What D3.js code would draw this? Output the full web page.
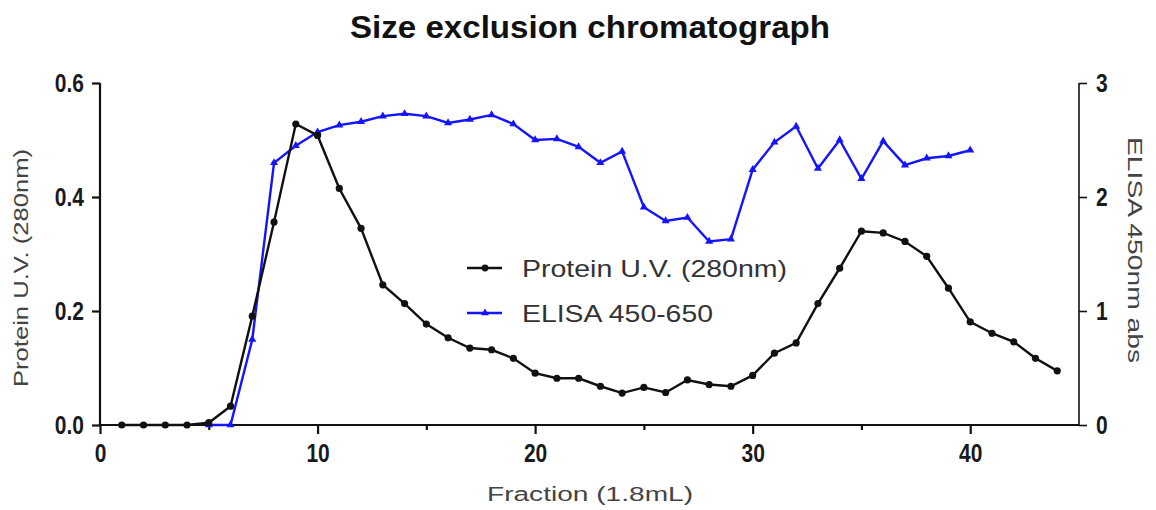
<!DOCTYPE html>
<html>
<head>
<meta charset="utf-8">
<script src="https://cdn.jsdelivr.net/npm/d3@7"></script>
<style>
  body { margin: 0; background: #fff; }
  svg { display: block; }
  .tick text { font-family: "Liberation Sans", Arial, sans-serif; font-weight: bold; font-size: 25px; fill: #1a1a1a; }
  .ttl { font-family: "Liberation Sans", Arial, sans-serif; fill: #444; font-size: 20px; }
</style>
</head>
<body>
<svg class="chart" width="1156" height="510"></svg>
<script>
var fractions = [1,2,3,4,5,6,7,8,9,10,11,12,13,14,15,16,17,18,19,20,21,22,
                 23,24,25,26,27,28,29,30,31,32,33,34,35,36,37,38,39,40,41,42,43,44];
var protein = [0,0,0,0,0.004,0.033,0.191,0.356,0.528,0.508,0.415,0.345,0.246,0.213,0.177,
               0.153,0.135,0.132,0.117,0.091,0.082,0.082,0.068,0.056,0.066,0.057,0.079,0.071,
               0.068,0.087,0.126,0.144,0.213,0.275,0.340,0.337,0.322,0.296,0.240,0.181,0.161,
               0.146,0.117,0.095];
var elisaFractions = [5,6,7,8,9,10,11,12,13,14,15,16,17,18,19,20,21,22,23,24,25,26,
                      27,28,29,30,31,32,33,34,35,36,37,38,39,40];
var elisa = [0,0,0.75,2.30,2.45,2.57,2.63,2.66,2.71,2.73,2.71,2.65,2.68,2.72,2.64,2.50,2.51,
             2.44,2.30,2.40,1.91,1.79,1.82,1.61,1.63,2.24,2.48,2.62,2.25,2.50,2.16,2.49,2.28,
             2.34,2.36,2.41];
var xTicks = [0,10,20,30,40];
var xMinor = [5,15,25,35];
var leftTicks = [0,0.2,0.4,0.6];
var rightTicks = [0,1,2,3];

var plotLeft = 100, plotRight = 1079, plotTop = 83, plotBottom = 425;
var squeeze = 0.84; // tick labels are a narrow face
var svg = d3.select(".chart");

var x = d3.scaleLinear().domain([0, 45]).range([plotLeft, plotRight]);
var yL = d3.scaleLinear().domain([0, 0.6]).range([plotBottom, plotTop]);
var yR = d3.scaleLinear().domain([0, 3]).range([plotBottom, plotTop]);

// title
svg.append("text")
    .attr("x", 590).attr("y", 38)
    .attr("text-anchor", "middle")
    .attr("textLength", 480).attr("lengthAdjust", "spacingAndGlyphs")
    .style("font-family", "Liberation Sans, Arial, sans-serif")
    .style("font-weight", "bold")
    .style("font-size", "31px")
    .style("fill", "#111")
    .text("Size exclusion chromatograph");

// axes
var gx = svg.append("g").attr("transform", "translate(0," + plotBottom + ")")
    .call(d3.axisBottom(x).tickValues(xTicks).tickSize(9).tickPadding(10).tickFormat(d3.format("d")));
gx.selectAll(".tick text").attr("dy", "0.71em");
svg.append("g").attr("transform", "translate(0," + plotBottom + ")")
    .call(d3.axisBottom(x).tickValues(xMinor).tickSize(5).tickFormat(""))
    .select(".domain").remove();

var gl = svg.append("g").attr("transform", "translate(" + plotLeft + ",0)")
    .call(d3.axisLeft(yL).tickValues(leftTicks).tickSize(8).tickPadding(8).tickFormat(d3.format(".1f")));

var gr = svg.append("g").attr("transform", "translate(" + plotRight + ",0)")
    .call(d3.axisRight(yR).tickValues(rightTicks).tickSize(8).tickPadding(9).tickFormat(d3.format("d")));

// narrow the tick labels without moving their anchor
svg.selectAll(".tick text").each(function() {
    var t = d3.select(this);
    var tx = +t.attr("x") || 0;
    t.attr("x", tx / squeeze).attr("transform", "scale(" + squeeze + ",1)");
});

svg.selectAll(".domain").attr("stroke", "#111").attr("stroke-width", 2.2);
svg.selectAll(".tick line").attr("stroke", "#111").attr("stroke-width", 2.2);
gr.select(".domain").attr("stroke-width", 1.6);
gr.selectAll(".tick line").attr("stroke-width", 1.6);
// keep outer ticks flush with the plot
gx.select(".domain").attr("d", "M" + plotLeft + ",0H" + plotRight);
gl.select(".domain").attr("d", "M0," + plotBottom + "V" + plotTop);
gr.select(".domain").attr("d", "M0," + plotBottom + "V" + plotTop);

// axis titles
svg.append("text").attr("class", "ttl")
    .attr("x", 590).attr("y", 501)
    .attr("text-anchor", "middle")
    .attr("textLength", 206).attr("lengthAdjust", "spacingAndGlyphs")
    .text("Fraction (1.8mL)");
svg.append("text").attr("class", "ttl")
    .attr("transform", "translate(28,268) rotate(-90)")
    .attr("text-anchor", "middle")
    .attr("textLength", 238).attr("lengthAdjust", "spacingAndGlyphs")
    .text("Protein U.V. (280nm)");
svg.append("text").attr("class", "ttl")
    .attr("transform", "translate(1128,250) rotate(90)")
    .attr("text-anchor", "middle")
    .attr("textLength", 226).attr("lengthAdjust", "spacingAndGlyphs")
    .text("ELISA 450nm abs");

// lines
var protLine = d3.line().x(function(d, i) { return x(fractions[i]); }).y(function(d) { return yL(d); });
var elisaLine = d3.line().x(function(d, i) { return x(elisaFractions[i]); }).y(function(d) { return yR(d); });

svg.append("path").datum(elisa)
    .attr("d", elisaLine)
    .attr("fill", "none").attr("stroke", "#1414ff").attr("stroke-width", 2.4);
svg.selectAll(".tri").data(elisa).enter().append("path")
    .attr("class", "tri")
    .attr("transform", function(d, i) { return "translate(" + x(elisaFractions[i]) + "," + yR(d) + ")"; })
    .attr("d", d3.symbol(d3.symbolTriangle, 28))
    .attr("fill", "#1414ff");

svg.append("path").datum(protein)
    .attr("d", protLine)
    .attr("fill", "none").attr("stroke", "#111").attr("stroke-width", 2.4);
svg.selectAll(".dot").data(protein).enter().append("circle")
    .attr("class", "dot")
    .attr("cx", function(d, i) { return x(fractions[i]); })
    .attr("cy", function(d) { return yL(d); })
    .attr("r", 3.6)
    .attr("fill", "#111");

// legend
var legend = [
    { name: "Protein U.V. (280nm)", color: "#111", sym: "circle", y: 268, len: 265 },
    { name: "ELISA 450-650", color: "#1414ff", sym: "tri", y: 313, len: 191 }
];
var lg = svg.append("g");
legend.forEach(function(l) {
    lg.append("line").attr("x1", 467).attr("x2", 502).attr("y1", l.y).attr("y2", l.y)
        .attr("stroke", l.color).attr("stroke-width", 2.4);
    if (l.sym === "circle") {
        lg.append("circle").attr("cx", 485).attr("cy", l.y).attr("r", 3.4).attr("fill", l.color);
    } else {
        lg.append("path").attr("transform", "translate(485," + l.y + ")")
            .attr("d", d3.symbol(d3.symbolTriangle, 26)).attr("fill", l.color);
    }
    lg.append("text").attr("x", 522).attr("y", l.y + 9)
        .attr("textLength", l.len).attr("lengthAdjust", "spacingAndGlyphs")
        .style("font-family", "Liberation Sans, Arial, sans-serif")
        .style("font-size", "24px")
        .style("fill", "#333")
        .text(l.name);
});
</script>
</body>
</html>
